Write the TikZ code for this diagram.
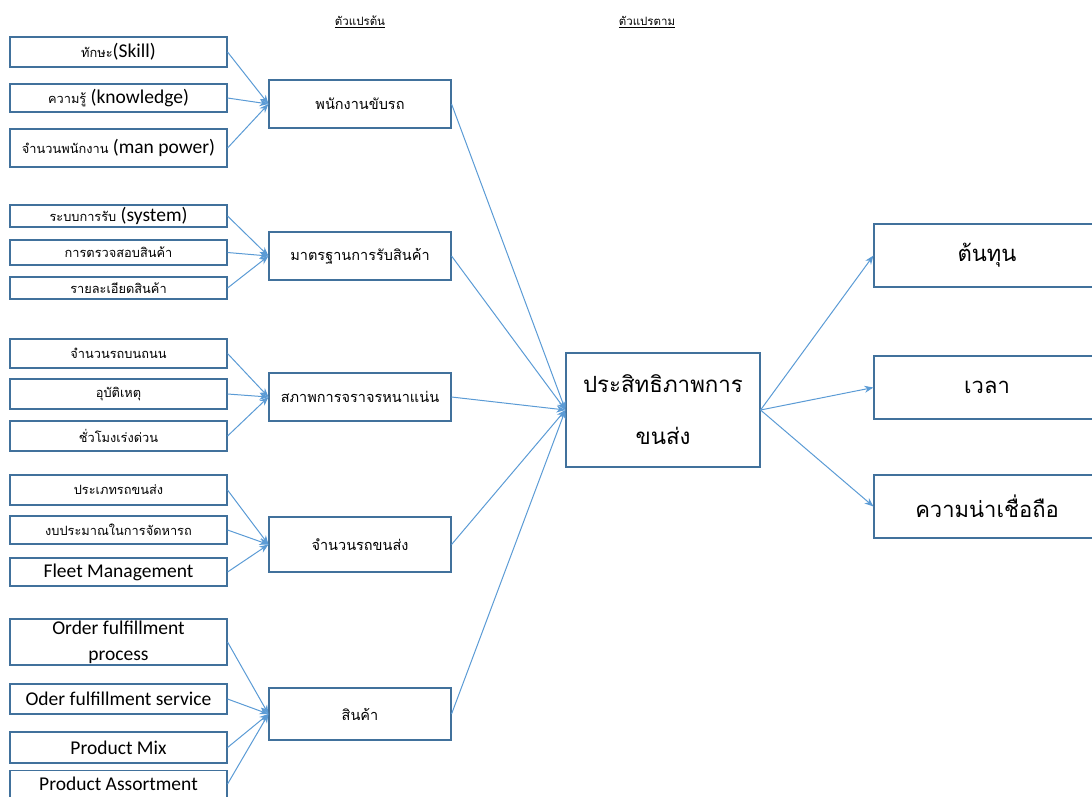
\documentclass[tikz,border=0pt]{standalone}
\usepackage{fontspec}
\setmainfont{Carlito}
\newfontfamily\thaifont[Script=Thai]{Loma}
\usetikzlibrary{arrows.meta}
\definecolor{boxblue}{HTML}{41719C}
\definecolor{lineblue}{HTML}{5B9BD5}
\tikzset{
  lbox/.style={draw=boxblue, line width=1.1pt, rectangle, inner sep=0pt, minimum width=217pt, align=center, font=\fontsize{19.5}{20}\selectfont},
  mbox/.style={draw=boxblue, line width=1.1pt, rectangle, inner sep=0pt, minimum width=182pt, align=center, font=\thaifont\fontsize{14.5}{16}\selectfont},
  cbox/.style={draw=boxblue, line width=1.1pt, rectangle, inner sep=0pt, minimum width=194pt, minimum height=114pt, align=center, font=\thaifont\fontsize{22.3}{52}\selectfont},
  rbox/.style={draw=boxblue, line width=1.1pt, rectangle, inner sep=0pt, minimum width=226pt, minimum height=63pt, align=center, font=\thaifont\fontsize{22}{26}\selectfont},
  hdr/.style={inner sep=1pt, font=\thaifont\fontsize{11.5}{13}\selectfont},
  arr/.style={draw=lineblue, line width=1pt, -{Stealth[length=9pt,width=7pt]}}
}
\newcommand{\tsm}[1]{{\thaifont\fontsize{12.8}{14}\selectfont #1}}
\begin{document}
\begin{tikzpicture}[x=1pt,y=-1pt]
\useasboundingbox (0,0) rectangle (1092,796);
% headers
\node[hdr] (h1) at (360,22) {\underline{ตัวแปรต้น}};
\node[hdr] (h2) at (647,22) {\underline{ตัวแปรตาม}};
% group 1
\node[lbox, minimum height=30pt] (a1) at (118.5,52) {\tsm{ทักษะ}(Skill)};
\node[lbox, minimum height=28pt] (a2) at (118.5,98) {\tsm{ความรู้} (knowledge)};
\node[lbox, minimum height=38pt] (a3) at (118.5,148) {\tsm{จำนวนพนักงาน} (man power)};
\node[mbox, minimum height=48pt] (m1) at (360,104) {พนักงานขับรถ};
% group 2
\node[lbox, minimum height=22pt] (b1) at (118.5,216) {\tsm{ระบบการรับ} (system)};
\node[lbox, minimum height=25pt] (b2) at (118.5,252.5) {\tsm{การตรวจสอบสินค้า}};
\node[lbox, minimum height=22pt] (b3) at (118.5,288) {\tsm{รายละเอียดสินค้า}};
\node[mbox, minimum height=48pt] (m2) at (360,256) {มาตรฐานการรับสินค้า};
% group 3
\node[lbox, minimum height=29pt] (c1) at (118.5,353.5) {\tsm{จำนวนรถบนถนน}};
\node[lbox, minimum height=30pt] (c2) at (118.5,394) {\tsm{อุบัติเหตุ}};
\node[lbox, minimum height=30pt] (c3) at (118.5,436) {\tsm{ชั่วโมงเร่งด่วน}};
\node[mbox, minimum height=48pt] (m3) at (360,397) {สภาพการจราจรหนาแน่น};
% group 4
\node[lbox, minimum height=30pt] (d1) at (118.5,490) {\tsm{ประเภทรถขนส่ง}};
\node[lbox, minimum height=28pt] (d2) at (118.5,530) {\tsm{งบประมาณในการจัดหารถ}};
\node[lbox, minimum height=28pt] (d3) at (118.5,572) {Fleet Management};
\node[mbox, minimum height=55pt] (m4) at (360,544.5) {จำนวนรถขนส่ง};
% group 5
\node[lbox, minimum height=46pt, font=\fontsize{19.5}{26}\selectfont] (e1) at (118.5,642) {Order fulfillment\\process};
\node[lbox, minimum height=30pt] (e2) at (118.5,699) {Oder fulfillment service};
\node[lbox, minimum height=31pt] (e3) at (118.5,747.5) {Product Mix};
\node[lbox, minimum height=27pt] (e4) at (118.5,784) {Product Assortment};
\node[mbox, minimum height=52pt] (m5) at (360,714) {สินค้า};
% centre
\node[cbox] (c) at (663,410) {ประสิทธิภาพการ\\ขนส่ง};
% right
\node[rbox] (r1) at (987,255.5) {ต้นทุน};
\node[rbox] (r2) at (987,387.5) {เวลา};
\node[rbox] (r3) at (987,506.5) {ความน่าเชื่อถือ};
% connectors
\foreach \s in {a1,a2,a3} \draw[arr] (\s.east) -- (m1.west);
\foreach \s in {b1,b2,b3} \draw[arr] (\s.east) -- (m2.west);
\foreach \s in {c1,c2,c3} \draw[arr] (\s.east) -- (m3.west);
\foreach \s in {d1,d2,d3} \draw[arr] (\s.east) -- (m4.west);
\foreach \s in {e1,e2,e3,e4} \draw[arr] (\s.east) -- (m5.west);
\foreach \s in {m1,m2,m3,m4,m5} \draw[arr] (\s.east) -- (c.west);
\foreach \t in {r1,r2,r3} \draw[arr] (c.east) -- (\t.west);
\end{tikzpicture}
\end{document}
